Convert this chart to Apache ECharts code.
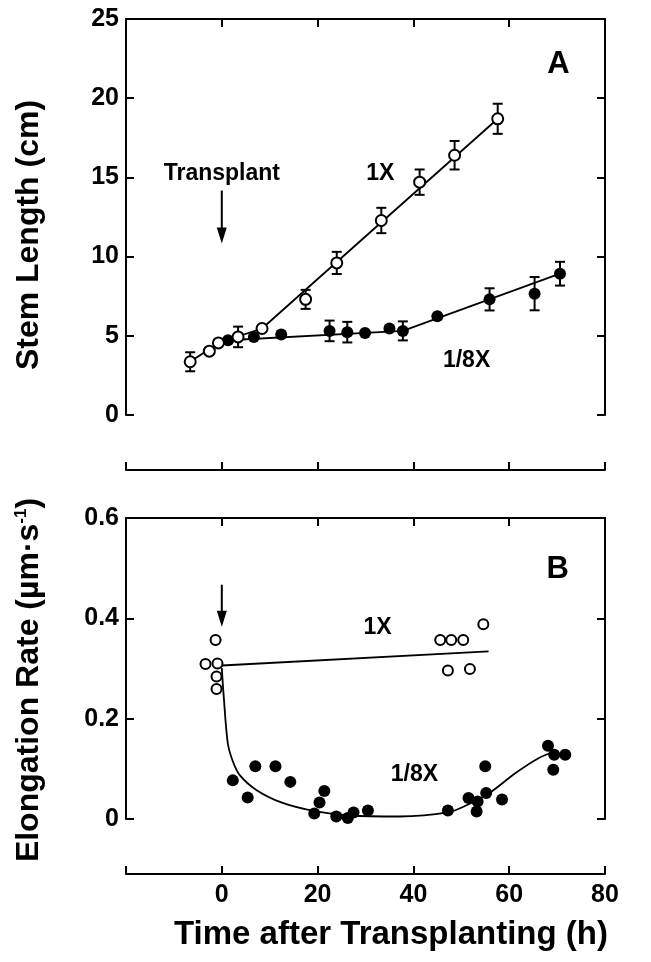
<!DOCTYPE html>
<html>
<head>
<meta charset="utf-8">
<script src="https://cdn.jsdelivr.net/npm/echarts@6/dist/echarts.min.js"></script>
<style>
  html, body { margin: 0; padding: 0; background: #fff; }
  #main { width: 651px; height: 962px; }
</style>
</head>
<body>
<div id="main"></div>
<script>
// panel A: stem length (cm)
var a1xX   = [-6.6, -2.6, -0.7, 3.4, 8.4, 17.5, 24.0, 33.3, 41.3, 48.6, 57.6];
var a1xY   = [3.36, 4.03, 4.55, 4.93, 5.46, 7.3, 9.6, 12.28, 14.7, 16.4, 18.7];
var a1xErr = [0.6, 0, 0, 0.65, 0, 0.6, 0.7, 0.8, 0.8, 0.9, 0.95];

var a8xX   = [1.3, 6.7, 12.4, 22.5, 26.2, 29.9, 35.0, 37.8, 45.0, 55.9, 65.3, 70.6];
var a8xY   = [4.72, 4.93, 5.08, 5.31, 5.23, 5.18, 5.46, 5.31, 6.23, 7.3, 7.66, 8.92];
var a8xErr = [0, 0, 0, 0.65, 0.65, 0, 0, 0.6, 0, 0.7, 1.05, 0.75];

// fitted lines drawn in panel A
var fitA1X = [-6.6, -0.7, 8.4, 57.6];
var fitA1Y = [3.36, 4.55, 5.46, 18.7];
var fitA8X = [1.3, 37.8, 70.6];
var fitA8Y = [4.72, 5.31, 8.92];

// panel B: elongation rate
var b1xX = [-3.4, -1.3, -0.9, -1.1, -1.1, 45.6, 47.9, 50.4, 54.6, 47.2, 51.8];
var b1xY = [0.309, 0.357, 0.310, 0.284, 0.259, 0.357, 0.357, 0.357, 0.388, 0.296, 0.299];

var b8xX = [2.3, 5.4, 7.0, 11.2, 14.3, 19.3, 20.4, 21.4, 23.9, 26.3, 27.5, 30.5,
            47.2, 51.5, 53.4, 53.2, 55.0, 55.2, 58.5, 68.1, 69.2, 69.4, 71.7];
var b8xY = [0.077, 0.043, 0.105, 0.105, 0.074, 0.011, 0.033, 0.056, 0.005, 0.002, 0.013, 0.017,
            0.017, 0.042, 0.035, 0.015, 0.105, 0.052, 0.039, 0.146, 0.098, 0.128, 0.128];

var fitB1X = [0, 55.7];
var fitB1Y = [0.306, 0.334];
var fitB8X = [0, 0.35, 1.25, 2.3, 3.7, 7.2, 12.7, 19.7, 26.7, 37.1, 47.2, 51.0, 55.9, 61.4, 66.3, 69.8];
var fitB8Y = [0.301, 0.251, 0.151, 0.115, 0.088, 0.058, 0.032, 0.015, 0.007, 0.005, 0.013, 0.027, 0.052, 0.092, 0.122, 0.136];

// annotations
var annAText = ['Transplant', '1X', '1/8X', 'A'];
var annAX    = [0, 33.1, 51.1, 70.3];
var annAY    = [15.24, 15.24, 3.46, 22.1];
var arrowA   = [[0, 14.17], [0, 10.83]];

var annBText = ['1X', '1/8X', 'B'];
var annBX    = [32.5, 40.2, 70.1];
var annBY    = [0.381, 0.088, 0.497];
var arrowB   = [[0, 0.467], [0, 0.383]];

var xTicks = [-20, 0, 20, 40, 60, 80];

var FONT = "'Liberation Sans', Arial, sans-serif";

function zip(xs, ys, es) {
    return xs.map(function (x, i) {
        return es ? [x, ys[i], es[i]] : [x, ys[i]];
    });
}

function errRender(params, api) {
    var x = api.value(0), y = api.value(1), e = api.value(2);
    if (!e) return;
    var t = api.coord([x, y + e]), b = api.coord([x, y - e]);
    var w = 5, st = {stroke: '#000', lineWidth: 2};
    return {
        type: 'group',
        children: [
            {type: 'line', shape: {x1: t[0], y1: t[1], x2: b[0], y2: b[1]}, style: st},
            {type: 'line', shape: {x1: t[0] - w, y1: t[1], x2: t[0] + w, y2: t[1]}, style: st},
            {type: 'line', shape: {x1: b[0] - w, y1: b[1], x2: b[0] + w, y2: b[1]}, style: st}
        ]
    };
}

// arrow: shaft plus a filled head, from api coordinates
function arrowRender(params, api) {
    var p0 = api.coord([api.value(0), api.value(1)]);
    var p1 = api.coord([api.value(2), api.value(3)]);
    var hl = 16, hw = 5;
    return {
        type: 'group',
        children: [
            {type: 'line', shape: {x1: p0[0], y1: p0[1], x2: p1[0], y2: p1[1] - hl + 2},
                style: {stroke: '#000', lineWidth: 2}},
            {type: 'polygon', shape: {points: [[p1[0], p1[1]], [p1[0] - hw, p1[1] - hl], [p1[0] + hw, p1[1] - hl]]},
                style: {fill: '#000'}}
        ]
    };
}

function annData(texts, xs, ys) {
    return texts.map(function (t, i) {
        var big = (t === 'A' || t === 'B');
        return {
            name: t,
            value: [xs[i], ys[i]],
            label: {fontSize: big ? 31 : 23}
        };
    });
}

var axisLine = {show: true, onZero: false, lineStyle: {color: '#000', width: 2}};
var tick = {show: true, inside: true, length: 8, lineStyle: {color: '#000', width: 2}};

function xAx(grid, pos, showLabels, offset) {
    return {
        type: 'value', gridIndex: grid, position: pos, offset: offset || 0,
        min: -20, max: 80, interval: 20,
        axisLine: axisLine, axisTick: tick, splitLine: {show: false},
        axisLabel: {
            show: showLabels, margin: 9, color: '#000',
            fontFamily: FONT, fontWeight: 'bold', fontSize: 25,
            formatter: function (v) { return v === xTicks[0] ? '' : v; }
        }
    };
}

function yAx(grid, pos, max, interval, showLabels) {
    return {
        type: 'value', gridIndex: grid, position: pos,
        min: 0, max: max, interval: interval,
        axisLine: axisLine, axisTick: tick, splitLine: {show: false},
        axisLabel: {
            show: showLabels, margin: 7, color: '#000',
            fontFamily: FONT, fontWeight: 'bold', fontSize: 25
        }
    };
}

var labelSeries = {
    type: 'scatter', symbolSize: 1, silent: true, z: 6,
    itemStyle: {color: 'rgba(0,0,0,0)', opacity: 1},
    label: {show: true, position: 'inside', formatter: '{b}', color: '#000',
        fontFamily: FONT, fontWeight: 'bold'}
};

var chart = echarts.init(document.getElementById('main'));

chart.setOption({
    backgroundColor: '#fff',
    animation: false,
    grid: [
        {left: 126, right: 46, top: 19, bottom: 547},
        {left: 126, right: 46, top: 518, bottom: 143}
    ],
    xAxis: [
        xAx(0, 'bottom', false, 55),
        xAx(0, 'top', false),
        xAx(1, 'bottom', true, 55),
        xAx(1, 'top', false)
    ],
    yAxis: [
        yAx(0, 'left', 25, 5, true),
        yAx(0, 'right', 25, 5, false),
        yAx(1, 'left', 0.6, 0.2, true),
        yAx(1, 'right', 0.6, 0.2, false)
    ],
    graphic: [
        {
            type: 'text', x: 29, y: 235, rotation: Math.PI / 2,
            style: {
                text: 'Stem Length (cm)', fill: '#000',
                font: 'bold 32px ' + FONT, align: 'center', verticalAlign: 'middle'
            }
        },
        {
            type: 'text', x: 29, y: 680, rotation: Math.PI / 2,
            style: {
                text: 'Elongation Rate (µm·s{sup|-1})', fill: '#000',
                fontFamily: FONT, fontWeight: 'bold', fontSize: 32,
                align: 'center', verticalAlign: 'middle',
                rich: {sup: {fontFamily: FONT, fontWeight: 'bold', fontSize: 17, verticalAlign: 'top', fill: '#000'}}
            }
        },
        {
            type: 'text', x: 391, y: 935,
            style: {
                text: 'Time after Transplanting (h)', fill: '#000',
                font: 'bold 33px ' + FONT, align: 'center', verticalAlign: 'middle'
            }
        }
    ],
    series: [
        // panel A
        {type: 'custom', xAxisIndex: 0, yAxisIndex: 0, renderItem: errRender, data: zip(a1xX, a1xY, a1xErr), z: 2},
        {type: 'custom', xAxisIndex: 0, yAxisIndex: 0, renderItem: errRender, data: zip(a8xX, a8xY, a8xErr), z: 2},
        {type: 'line', xAxisIndex: 0, yAxisIndex: 0, data: zip(fitA1X, fitA1Y), showSymbol: false,
            lineStyle: {color: '#000', width: 1.8}, z: 3, silent: true},
        {type: 'line', xAxisIndex: 0, yAxisIndex: 0, data: zip(fitA8X, fitA8Y), showSymbol: false,
            lineStyle: {color: '#000', width: 1.8}, z: 3, silent: true},
        {type: 'scatter', xAxisIndex: 0, yAxisIndex: 0, data: zip(a8xX, a8xY), symbolSize: 12,
            itemStyle: {color: '#000', opacity: 1}, z: 4},
        {type: 'scatter', xAxisIndex: 0, yAxisIndex: 0, data: zip(a1xX, a1xY), symbolSize: 11,
            itemStyle: {color: '#fff', borderColor: '#000', borderWidth: 2, opacity: 1}, z: 5},
        {type: 'custom', xAxisIndex: 0, yAxisIndex: 0, renderItem: arrowRender,
            data: [arrowA[0].concat(arrowA[1])], z: 5, silent: true},
        Object.assign({xAxisIndex: 0, yAxisIndex: 0, data: annData(annAText, annAX, annAY)}, labelSeries),

        // panel B
        {type: 'line', xAxisIndex: 2, yAxisIndex: 2, data: zip(fitB1X, fitB1Y), showSymbol: false,
            lineStyle: {color: '#000', width: 1.8}, z: 3, silent: true},
        {type: 'line', xAxisIndex: 2, yAxisIndex: 2, data: zip(fitB8X, fitB8Y), showSymbol: false, smooth: 0.3,
            lineStyle: {color: '#000', width: 1.8}, z: 3, silent: true},
        {type: 'scatter', xAxisIndex: 2, yAxisIndex: 2, data: zip(b8xX, b8xY), symbolSize: 12,
            itemStyle: {color: '#000', opacity: 1}, z: 4},
        {type: 'scatter', xAxisIndex: 2, yAxisIndex: 2, data: zip(b1xX, b1xY), symbolSize: 10,
            itemStyle: {color: '#fff', borderColor: '#000', borderWidth: 2, opacity: 1}, z: 5},
        {type: 'custom', xAxisIndex: 2, yAxisIndex: 2, renderItem: arrowRender,
            data: [arrowB[0].concat(arrowB[1])], z: 5, silent: true},
        Object.assign({xAxisIndex: 2, yAxisIndex: 2, data: annData(annBText, annBX, annBY)}, labelSeries)
    ]
});
</script>
</body>
</html>
